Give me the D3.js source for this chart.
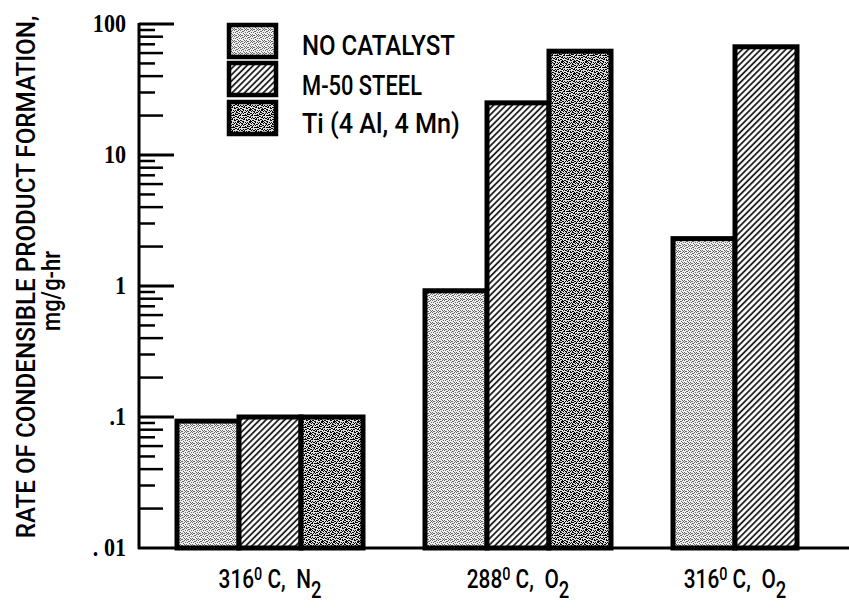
<!DOCTYPE html>
<html><head><meta charset="utf-8">
<script src="https://cdn.jsdelivr.net/npm/d3@7"></script>
<style>body{margin:0;background:#fff}svg{display:block}</style>
</head><body>
<svg id="c" width="849" height="614"></svg>
<script>
// ---- data ----
const categories = ["316° C, N2", "288° C, O2", "316° C, O2"];
const catTemps = ["316", "288", "316"];
const catGases = ["N", "O", "O"];
const series = ["NO CATALYST", "M-50 STEEL", "Ti (4 Al, 4 Mn)"];
const noCatalyst = [0.093, 0.92, 2.3];
const m50Steel = [0.1, 25, 67];
const tiAlloy = [0.1, 62, null];
const yTickValues = [0.01, 0.1, 1, 10, 100];
const yTickLabels = [". 01", ".1", "1", "10", "100"];
const yTitle1 = "RATE OF CONDENSIBLE PRODUCT FORMATION,";
const yTitle2 = "mg/g-hr";

const seriesValues = [noCatalyst, m50Steel, tiAlloy];

const svg = d3.select("#c");
const defs = svg.append("defs");
const COND = "Roboto,'Liberation Sans',Arial,sans-serif";

// patterns
const p1 = defs.append("pattern").attr("id","pat0").attr("patternUnits","userSpaceOnUse")
  .attr("width",6).attr("height",6);
p1.append("rect").attr("width",6).attr("height",6).attr("fill","#efefef");
[[0,0],[2,1],[4,0],[1,2],[3,3],[5,2],[0,4],[2,5],[4,4],[5,5],[1,5],[3,1]].forEach(([x,y])=>
  p1.append("rect").attr("x",x).attr("y",y).attr("width",1).attr("height",1).attr("fill","#666"));

const p2 = defs.append("pattern").attr("id","pat1").attr("patternUnits","userSpaceOnUse")
  .attr("width",4.4).attr("height",8).attr("patternTransform","rotate(45)");
p2.append("rect").attr("width",4.4).attr("height",8).attr("fill","#fff");
p2.append("line").attr("x1",1).attr("y1",0).attr("x2",1).attr("y2",8)
  .attr("stroke","#111").attr("stroke-width",1.7);

const p3 = defs.append("pattern").attr("id","pat2").attr("patternUnits","userSpaceOnUse")
  .attr("width",12).attr("height",12);
p3.append("rect").attr("width",12).attr("height",12).attr("fill","#dcdcdc");
[[0,0,2,1],[3,1,1,2],[6,0,2,1],[9,1,2,2],[1,3,2,1],[4,4,2,1],[8,3,1,2],[10,5,2,1],
 [0,6,1,2],[2,7,2,1],[5,6,1,2],[7,8,2,1],[10,8,1,2],[1,10,2,1],[4,10,1,2],[8,11,2,1],
 [11,10,1,1],[6,3,1,1],[3,9,1,1],[9,6,1,1],[6,11,1,1],[0,9,1,1],[5,2,1,1],[7,5,1,2],
 [2,4,1,1],[11,3,1,1],[3,5,1,1],[9,9,1,1],[6,9,1,1],[0,2,1,1],[10,0,1,1],[4,7,1,1],
 [8,6,1,1],[2,1,1,1],[11,7,1,1],[5,9,1,1],[1,5,1,1],[7,2,1,1],[9,4,1,1],[3,11,1,1],
 [11,1,1,1],[6,7,1,1]]
 .forEach(([x,y,w,h])=>
  p3.append("rect").attr("x",x).attr("y",y).attr("width",w).attr("height",h).attr("fill","#000"));

// scales
const y = d3.scaleLog().domain([0.01, 100]).range([548, 24]);
const x0 = d3.scaleBand().domain(categories).range([146, 890]).paddingInner(0.25).paddingOuter(0.125);
const x1 = d3.scaleBand().domain(series).range([0, x0.bandwidth()]);

// bars
const barData = [];
categories.forEach((c,i)=>series.forEach((s,j)=>{
  const v = seriesValues[j][i];
  if (v != null) barData.push({c, s, j, v});
}));
svg.append("g").selectAll("rect").data(barData).join("rect")
  .attr("x", d => x0(d.c) + x1(d.s))
  .attr("y", d => y(d.v))
  .attr("width", x1.bandwidth())
  .attr("height", d => y(0.01) - y(d.v))
  .attr("fill", d => `url(#pat${d.j})`)
  .attr("stroke", "#000").attr("stroke-width", 5);

// y axis line and ticks
const axisX = 139;
svg.append("line").attr("x1",axisX).attr("x2",axisX).attr("y1",y(100)-1).attr("y2",y(0.01)+1)
  .attr("stroke","#000").attr("stroke-width",3);
svg.append("line").attr("x1",axisX-1).attr("x2",849).attr("y1",y(0.01)).attr("y2",y(0.01))
  .attr("stroke","#000").attr("stroke-width",3);

const minor = [];
[0.01,0.1,1,10].forEach(d=>{ for(let k=2;k<=9;k++) minor.push({v:d*k,k}); });
svg.append("g").selectAll("line").data(minor).join("line")
  .attr("x1",axisX).attr("x2",d=> axisX + (d.k%2===0 ? 24 : 16))
  .attr("y1",d=>y(d.v)).attr("y2",d=>y(d.v))
  .attr("stroke","#000").attr("stroke-width",2.5);
svg.append("g").selectAll("line").data(yTickValues.slice(1)).join("line")
  .attr("x1",axisX).attr("x2",axisX+35)
  .attr("y1",d=>y(d)).attr("y2",d=>y(d))
  .attr("stroke","#000").attr("stroke-width",3);

svg.append("g").selectAll("text").data(yTickValues).join("text")
  .attr("transform",d=>`translate(126,${y(d)+8}) scale(0.85,1)`)
  .attr("text-anchor","end")
  .attr("font-family","'Liberation Serif','DejaVu Serif',serif").attr("font-weight","bold")
  .attr("font-size",26)
  .text((d,i)=>yTickLabels[i]);

// helper: condensed text fitted to a target width via scale transform
function fitted(parent, str, size, targetW, baseTransform, anchor) {
  const g = parent.append("g");
  const t = g.append("text").attr("font-family",COND).attr("font-weight",500)
    .attr("font-size",size).attr("text-anchor",anchor).text(str);
  const w = t.node().getComputedTextLength();
  g.attr("transform", `${baseTransform} scale(${targetW / w},1)`);
  return g;
}

// y title
fitted(svg, yTitle1, 25, 523, "translate(35,277) rotate(-90)", "middle");
fitted(svg, yTitle2, 25, 80, "translate(60,291) rotate(-90)", "middle");

// x labels
categories.forEach((c,i)=>{
  const present = series.filter((s,j)=>seriesValues[j][i]!=null);
  const cx = d3.mean(present, s => x0(c) + x1(s) + x1.bandwidth()/2);
  const g = svg.append("g").attr("transform",`translate(${cx},588) scale(0.8,1)`);
  const t = g.append("text").attr("x",0).attr("y",0)
    .attr("text-anchor","middle").attr("font-family",COND).attr("font-weight",500).attr("font-size",26);
  t.append("tspan").text(catTemps[i]);
  t.append("tspan").attr("dy",-8).attr("font-size",18).text("0");
  t.append("tspan").attr("dy",8).text(" C,\u2002" + catGases[i]);
  t.append("tspan").attr("dy",10).attr("font-size",23).text("2");
});

// legend
const legY = [25, 63, 102];
const legText = [55, 95, 133];
const legLen = [153, 120, 158];
series.forEach((s,j)=>{
  svg.append("rect").attr("x",229).attr("y",legY[j]).attr("width",47).attr("height",32)
    .attr("fill",`url(#pat${j})`).attr("stroke","#000").attr("stroke-width",4.5);
  fitted(svg, s, 27, legLen[j], `translate(302,${legText[j]})`, "start");
});
</script>
</body></html>
